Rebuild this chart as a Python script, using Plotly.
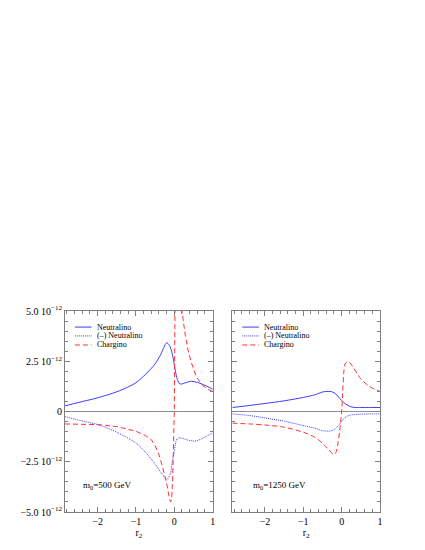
import plotly.graph_objects as go

# ---------------- data (units of 10^-12) ----------------
# Panel 1: m0 = 500 GeV
r2_neut_500 = [-2.85, -2.5, -2.0, -1.5, -1.25, -1.0, -0.75, -0.5, -0.35, -0.27, -0.2, -0.13, -0.07,
               -0.02, 0.03, 0.08, 0.14, 0.2, 0.3, 0.45, 0.6, 0.8, 1.0]
neut_500 = [0.28, 0.45, 0.68, 0.98, 1.18, 1.43, 1.85, 2.37, 2.85, 3.2, 3.42, 3.3, 3.0,
            2.55, 2.0, 1.6, 1.38, 1.37, 1.44, 1.5, 1.45, 1.3, 1.12]

r2_mneut_500 = [-2.85, -2.45, -2.0, -1.5, -1.0, -0.75, -0.5, -0.35, -0.25, -0.2, -0.1, -0.06,
                0.0, 0.05, 0.1, 0.2, 0.35, 0.53, 0.7, 0.87, 1.0]
mneut_500 = [-0.25, -0.45, -0.65, -1.03, -1.57, -2.03, -2.62, -3.03, -3.28, -3.4, -3.1, -2.6,
             -1.95, -1.45, -1.32, -1.33, -1.42, -1.47, -1.37, -1.2, -1.07]

r2_char_500 = [-2.85, -2.5, -2.0, -1.5, -1.0, -0.75, -0.6, -0.5, -0.4, -0.3, -0.2, -0.15,
               -0.1, -0.07, -0.04, -0.02, 0.0, 0.02, 0.05, 0.1, 0.15, 0.2, 0.28, 0.36,
               0.45, 0.58, 0.75, 0.88, 1.0]
char_500 = [-0.62, -0.62, -0.65, -0.75, -0.98, -1.2, -1.4, -1.7, -2.15, -2.8, -3.55, -4.1,
            -4.5, -4.4, -3.2, -1.6, 0.0, 5.5, 9.0, 9.0, 7.0, 5.0, 3.87, 3.03,
            2.4, 1.7, 1.28, 1.1, 1.0]

# Panel 2: m0 = 1250 GeV
r2_neut_1250 = [-2.85, -2.4, -2.0, -1.5, -1.0, -0.7, -0.5, -0.35, -0.25, -0.15, -0.05, 0.05,
                0.15, 0.25, 0.35, 0.5, 0.75, 1.0]
neut_1250 = [0.2, 0.3, 0.4, 0.53, 0.7, 0.83, 0.97, 1.0, 0.98, 0.87, 0.65, 0.45,
             0.32, 0.23, 0.2, 0.2, 0.2, 0.2]

r2_mneut_1250 = [-2.85, -2.4, -2.0, -1.5, -1.0, -0.7, -0.5, -0.35, -0.25, -0.15, -0.05, 0.05,
                 0.15, 0.25, 0.35, 0.5, 0.75, 1.0]
mneut_1250 = [-0.12, -0.2, -0.32, -0.48, -0.7, -0.83, -0.95, -0.98, -0.95, -0.83, -0.62, -0.37,
              -0.23, -0.17, -0.15, -0.13, -0.12, -0.12]

r2_char_1250 = [-2.85, -2.4, -2.0, -1.5, -1.0, -0.7, -0.5, -0.35, -0.25, -0.2, -0.15, -0.1,
                -0.05, 0.0, 0.025, 0.06, 0.09, 0.15, 0.2, 0.3, 0.4, 0.5, 0.7, 0.85, 1.0]
char_1250 = [-0.58, -0.62, -0.67, -0.78, -1.03, -1.28, -1.58, -1.87, -2.08, -2.15, -2.03, -1.62,
             -0.95, 0.0, 0.87, 2.03, 2.37, 2.48, 2.45, 2.2, 1.9, 1.62, 1.28, 1.12, 1.0]

series_names = ["Neutralino", "(\u2013) Neutralino", "Chargino"]
panel_labels = ["m<sub>0</sub>=500 GeV", "m<sub>0</sub>=1250 GeV"]

x_tickvals = [-2, -1, 0, 1]
x_ticktext = ["\u22122", "\u22121", "0", "1"]
y_tickvals = [-5, -2.5, 0, 2.5, 5]
y_ticktext = ["\u22125.0 10<sup>\u221212</sup>", "\u22122.5 10<sup>\u221212</sup>", "0",
              "2.5 10<sup>\u221212</sup>", "5.0 10<sup>\u221212</sup>"]

# ---------------- styles ----------------
BLUE = "#3b3bff"
RED = "#ff3030"
FONT = "Liberation Serif"
styles = [dict(color=BLUE, width=1, dash="solid"),
          dict(color=BLUE, width=1, dash="1px,1px"),
          dict(color=RED, width=1, dash="5px,3px")]

fig = go.Figure()

panels = [
    ("x", "y", [(r2_neut_500, neut_500), (r2_mneut_500, mneut_500), (r2_char_500, char_500)],
     [True, True, False]),
    ("x2", "y2", [(r2_neut_1250, neut_1250), (r2_mneut_1250, mneut_1250), (r2_char_1250, char_1250)],
     [True, True, True]),
]
for xa, ya, series, smooth in panels:
    for (xs, ys), name, st, sm in zip(series, series_names, styles, smooth):
        line = dict(st)
        if sm:
            line.update(shape="spline", smoothing=0.8)
        fig.add_trace(go.Scatter(x=xs, y=ys, mode="lines", name=name, line=line,
                                 xaxis=xa, yaxis=ya, showlegend=False))

axis_common = dict(
    showgrid=False, showline=True, linecolor="#808080", linewidth=1,
    mirror="ticks", ticks="inside", ticklen=5, tickcolor="#808080", tickwidth=1,
    tickfont=dict(family=FONT, size=10, color="black"),
)

xcommon = dict(axis_common, range=[-2.85, 1.0], tickvals=x_tickvals, ticktext=x_ticktext,
               zeroline=False,
               minor=dict(dtick=0.2, tick0=0, ticks="inside", ticklen=3, tickcolor="#808080"))
ycommon = dict(axis_common, range=[-5, 5], tickvals=y_tickvals, ticktext=y_ticktext,
               zeroline=True, zerolinecolor="#909090", zerolinewidth=1,
               minor=dict(dtick=0.5, tick0=0, ticks="inside", ticklen=3, tickcolor="#808080"))

W, H = 425, 550
L, R, T, B = 52, 53, 303, 46
fig.update_layout(
    width=W, height=H,
    margin=dict(l=L, r=R, t=T, b=B),
    paper_bgcolor="white", plot_bgcolor="white",
    font=dict(family=FONT, size=10, color="black"),
    xaxis=dict(xcommon, domain=[0, 150 / 320], anchor="y",
               title=dict(text="r<sub>2</sub>", font=dict(family=FONT, size=10), standoff=1)),
    yaxis=dict(ycommon, domain=[0, 1], anchor="x"),
    xaxis2=dict(xcommon, domain=[170 / 320, 1], anchor="y2",
                title=dict(text="r<sub>2</sub>", font=dict(family=FONT, size=10), standoff=1)),
    yaxis2=dict(ycommon, domain=[0, 1], anchor="x2", showticklabels=False),
)

# legends (manual, one per panel) and panel labels
legend_rows = [0.920, 0.876, 0.831]
for xa, ya, label, lx in [("x", "y", panel_labels[0], 0.107), ("x2", "y2", panel_labels[1], 0.127)]:
    for name, st, yy in zip(series_names, styles, legend_rows):
        fig.add_shape(type="line", xref=f"{xa} domain", yref=f"{ya} domain",
                      x0=0.067, x1=0.18, y0=yy, y1=yy, line=st)
        fig.add_annotation(xref=f"{xa} domain", yref=f"{ya} domain", x=0.2, y=yy,
                           text=name, showarrow=False, xanchor="left", yanchor="middle",
                           font=dict(family=FONT, size=8, color="black"))
    fig.add_annotation(xref=f"{xa} domain", yref=f"{ya} domain", x=lx, y=0.134,
                       text=label, showarrow=False, xanchor="left", yanchor="middle",
                       font=dict(family=FONT, size=9, color="black"))

fig.write_html("out.html")
